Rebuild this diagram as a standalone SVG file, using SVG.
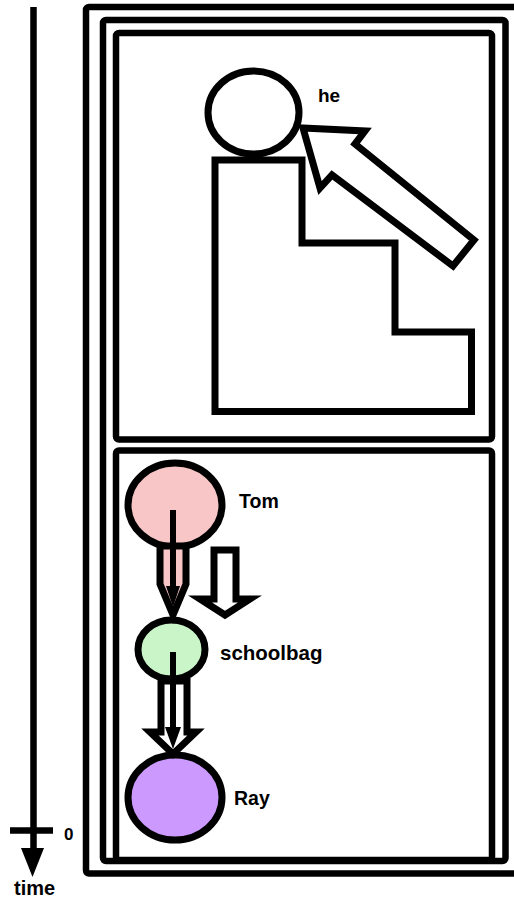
<svg xmlns="http://www.w3.org/2000/svg" width="514" height="905" viewBox="0 0 514 905">
  <style>
    .frame { fill: none; stroke: #000; stroke-width: 6.5; stroke-linejoin: round; }
    .shape { stroke: #000; stroke-width: 7; stroke-linejoin: miter; }
    .lbl { font-family: "Liberation Sans", Arial, sans-serif; font-weight: bold; fill: #000; }
    .conn { stroke: #000; stroke-width: 6; fill: none; }
  </style>
  <rect width="514" height="905" fill="#fff"/>

  <g id="frames">
    <rect class="frame" x="86" y="7" width="434" height="866.5" rx="3"/>
    <rect class="frame" x="103" y="20" width="402.5" height="841" rx="3"/>
    <rect id="panel-top" class="frame" x="116" y="33" width="376" height="406.5" rx="3"/>
    <rect id="panel-bottom" class="frame" x="116" y="450.5" width="376" height="409.5" rx="3"/>
  </g>

  <g id="time-axis">
    <line x1="33.5" y1="7" x2="33.5" y2="852" stroke="#000" stroke-width="6.5"/>
    <line x1="10" y1="830.5" x2="53" y2="830.5" stroke="#000" stroke-width="6.5"/>
    <polygon points="21,848 44,848 32.5,877" fill="#000"/>
    <text class="lbl" x="64" y="840" font-size="17">0</text>
    <text class="lbl" x="14" y="895" font-size="20">time</text>
  </g>

  <g id="stairs">
    <polygon class="shape" fill="#fff" points="215,160 302,160 302,243 395,243 395,332 471.5,332 471.5,411.5 215,411.5"/>
  </g>

  <g id="he">
    <ellipse class="shape" fill="#fff" cx="253.5" cy="112.5" rx="45.5" ry="41.5"/>
    <text class="lbl" x="318" y="102" font-size="19">he</text>
  </g>

  <g id="Tom">
    <ellipse class="shape" fill="#F8C6C6" cx="175" cy="505" rx="47" ry="42"/>
    <text class="lbl" x="239" y="508" font-size="19.5">Tom</text>
  </g>

  <g id="schoolbag">
    <ellipse class="shape" fill="#C9F5C9" cx="171.5" cy="649.5" rx="33.5" ry="29.5"/>
    <text class="lbl" x="220" y="660" font-size="20.5">schoolbag</text>
  </g>

  <g id="Ray">
    <ellipse class="shape" fill="#CC99FF" cx="175" cy="797.5" rx="47" ry="42.5"/>
    <text class="lbl" x="234" y="805" font-size="19.5">Ray</text>
  </g>

  <g id="connectors">
    <polygon class="shape" fill="#fff" points="303,128 365,131 355,144 474,240 453,266 332,175 320,188"/>
    <polygon class="shape" fill="#F8C6C6" stroke-width="5.5" points="160,546 160,584 173,615 186,584 186,546"/>
    <line class="conn" x1="173" y1="510" x2="173" y2="592"/>
    <polygon points="166,586 180,586 173,607" fill="#000"/>
    <polygon class="shape" fill="#fff" stroke-width="5.5" points="214,550 236,550 236,599 250,599 225,615 200,599 214,599"/>
    <polygon class="shape" fill="#fff" points="161,681 161,732 150,732 173,754 196,732 187,732 187,681"/>
    <line class="conn" x1="173" y1="652" x2="173" y2="734"/>
    <polygon points="165,727 181,727 173,749" fill="#000"/>
  </g>
</svg>
